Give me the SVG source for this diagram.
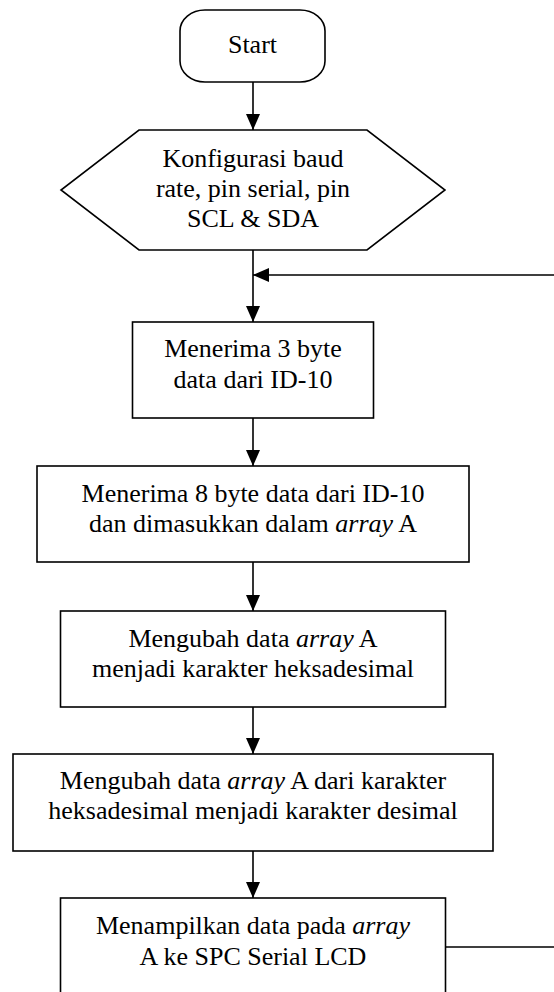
<svg xmlns="http://www.w3.org/2000/svg" width="554" height="992" viewBox="0 0 554 992">
  <style>
    .shape { fill: #ffffff; stroke: #000000; stroke-width: 1.6; }
    .line { fill: none; stroke: #000000; stroke-width: 1.6; }
    text { font-family: "Liberation Serif", "Times New Roman", serif; font-size: 26px; fill: #000000; text-anchor: middle; }
    .it { font-style: italic; }
  </style>
  <defs>
    <marker id="arrow" viewBox="0 0 16 14" refX="16" refY="7" markerWidth="16" markerHeight="14" markerUnits="userSpaceOnUse" orient="auto">
      <path d="M0,0 L16,7 L0,14 Z" fill="#000000"/>
    </marker>
  </defs>
  <rect width="554" height="992" fill="#ffffff"/>

  <g id="connectors">
    <line class="line" x1="253" y1="82" x2="253" y2="130" marker-end="url(#arrow)"/>
    <line class="line" x1="253" y1="250" x2="253" y2="322" marker-end="url(#arrow)"/>
    <line class="line" x1="253" y1="418" x2="253" y2="466" marker-end="url(#arrow)"/>
    <line class="line" x1="253" y1="562" x2="253" y2="611" marker-end="url(#arrow)"/>
    <line class="line" x1="253" y1="707" x2="253" y2="754" marker-end="url(#arrow)"/>
    <line class="line" x1="253" y1="851" x2="253" y2="898" marker-end="url(#arrow)"/>
    <path class="line" d="M446,947 H562 V275 H253" marker-end="url(#arrow)"/>
  </g>

  <g id="start">
    <rect class="shape" x="180" y="10" width="145" height="72" rx="25" ry="21"/>
    <text x="252.5" y="53">Start</text>
  </g>

  <g id="konfigurasi">
    <polygon class="shape" points="139,130 367,130 445,190 367,250 139,250 61,190"/>
    <text x="253" y="167">Konfigurasi baud</text>
    <text x="253" y="197">rate, pin serial, pin</text>
    <text x="253" y="227">SCL &amp; SDA</text>
  </g>

  <g id="terima3">
    <rect class="shape" x="132.5" y="322" width="241" height="96"/>
    <text x="253" y="357">Menerima 3 byte</text>
    <text x="253" y="388">data dari ID-10</text>
  </g>

  <g id="terima8">
    <rect class="shape" x="37" y="466" width="432" height="96"/>
    <text x="253" y="502">Menerima 8 byte data dari ID-10</text>
    <text x="253" y="532">dan dimasukkan dalam <tspan class="it">array</tspan> A</text>
  </g>

  <g id="ubahheks">
    <rect class="shape" x="60.5" y="611" width="385" height="96"/>
    <text x="253" y="647">Mengubah data <tspan class="it">array</tspan> A</text>
    <text x="253" y="677">menjadi karakter heksadesimal</text>
  </g>

  <g id="ubahdes">
    <rect class="shape" x="13" y="754" width="480" height="97"/>
    <text x="253" y="789">Mengubah data <tspan class="it">array</tspan> A dari karakter</text>
    <text x="253" y="819">heksadesimal menjadi karakter desimal</text>
  </g>

  <g id="tampil">
    <rect class="shape" x="60.5" y="898" width="385" height="110"/>
    <text x="253" y="934">Menampilkan data pada <tspan class="it">array</tspan></text>
    <text x="253" y="965">A ke SPC Serial LCD</text>
  </g>
</svg>
